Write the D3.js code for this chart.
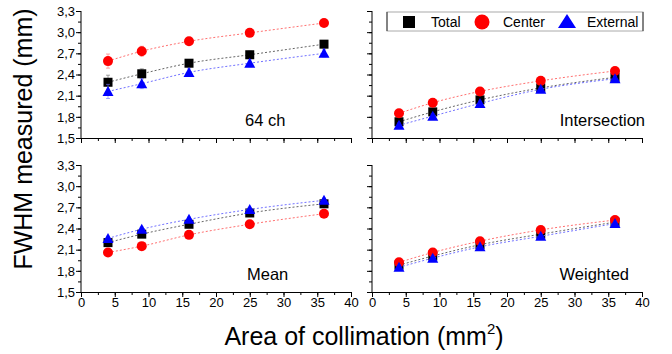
<!DOCTYPE html>
<html>
<head>
<meta charset="utf-8">
<script src="https://cdn.jsdelivr.net/npm/d3@7"></script>
<style>
  html, body { margin: 0; padding: 0; background: #fff; }
  svg { display: block; font-family: "Liberation Sans", Arial, sans-serif; }
</style>
</head>
<body>
<svg id="chart" width="672" height="354"></svg>
<script>
// Collimation areas (mm^2)
const areas = [4, 9, 16, 25, 36];
const xTicks = [0, 5, 10, 15, 20, 25, 30, 35, 40];
const yTicks = [1.5, 1.8, 2.1, 2.4, 2.7, 3.0, 3.3];

// FWHM (mm) per method
const ch64Total    = [2.29, 2.41, 2.56, 2.68, 2.83];
const ch64Center   = [2.59, 2.73, 2.87, 2.99, 3.13];
const ch64External = [2.16, 2.27, 2.43, 2.56, 2.70];

const interTotal    = [1.73, 1.87, 2.04, 2.21, 2.36];
const interCenter   = [1.85, 2.00, 2.16, 2.31, 2.45];
const interExternal = [1.68, 1.81, 1.99, 2.19, 2.34];

const meanTotal    = [2.20, 2.32, 2.46, 2.62, 2.75];
const meanCenter   = [2.06, 2.15, 2.31, 2.46, 2.61];
const meanExternal = [2.26, 2.39, 2.53, 2.67, 2.80];

const weightTotal    = [1.88, 2.01, 2.17, 2.32, 2.49];
const weightCenter   = [1.92, 2.06, 2.22, 2.38, 2.52];
const weightExternal = [1.85, 1.98, 2.14, 2.29, 2.47];

// Approximate error bar half-widths (mm)
const ch64Err = [0.1, 0.07, 0.05, 0.05, 0.05];
const smallErr = [0.03, 0.03, 0.03, 0.03, 0.03];

const seriesNames = ["Total", "Center", "External"];
const colors = { Total: "#000000", Center: "#ff0000", External: "#0000ff" };
const lineColors = { Total: "#666666", Center: "#ff7070", External: "#7070ff" };

const panels = [
  { label: "64 ch", col: 0, row: 0, anchor: "start", lx: 245,
    data: { Total: ch64Total, Center: ch64Center, External: ch64External }, err: ch64Err },
  { label: "Intersection", col: 1, row: 0, anchor: "end", lx: 645,
    data: { Total: interTotal, Center: interCenter, External: interExternal }, err: smallErr },
  { label: "Mean", col: 0, row: 1, anchor: "start", lx: 247,
    data: { Total: meanTotal, Center: meanCenter, External: meanExternal }, err: smallErr },
  { label: "Weighted", col: 1, row: 1, anchor: "end", lx: 629,
    data: { Total: weightTotal, Center: weightCenter, External: weightExternal }, err: smallErr }
];

const svg = d3.select("#chart");
const colX = [81, 372];
const rowY = [11, 165];
const pw = 270, ph = 127;
const fmt = d => d3.format(".1f")(d).replace(".", ",");

function drawMarker(g, name, cx, cy) {
  if (name === "Total") {
    g.append("rect").attr("x", cx - 4.5).attr("y", cy - 4.5)
      .attr("width", 9).attr("height", 9).attr("fill", colors[name]);
  } else if (name === "Center") {
    g.append("circle").attr("cx", cx).attr("cy", cy).attr("r", 5).attr("fill", colors[name]);
  } else {
    g.append("path").attr("d", `M${cx},${cy - 5.5}L${cx + 5.5},${cy + 4.5}L${cx - 5.5},${cy + 4.5}Z`)
      .attr("fill", colors[name]);
  }
}

panels.forEach(p => {
  const x0 = colX[p.col], y0 = rowY[p.row];
  const x = d3.scaleLinear().domain([0, 40]).range([x0, x0 + pw]);
  const y = d3.scaleLinear().domain([1.5, 3.3]).range([y0 + ph, y0]);
  const g = svg.append("g");

  // x axis: minor ticks every 2.5, labels only on the bottom row
  const xAxisMinor = d3.axisBottom(x).tickValues(d3.range(0, 40.1, 2.5)).tickSize(3).tickFormat("");
  g.append("g").attr("transform", `translate(0,${y0 + ph})`).call(xAxisMinor)
    .call(a => a.select(".domain").attr("stroke", "#000"))
    .call(a => a.selectAll("line").attr("stroke", "#000"));
  const xAxisMajor = d3.axisBottom(x).tickValues(xTicks).tickSize(5).tickPadding(1)
    .tickFormat(p.row === 1 ? d3.format("d") : "");
  g.append("g").attr("transform", `translate(0,${y0 + ph})`).call(xAxisMajor)
    .call(a => a.select(".domain").remove())
    .call(a => a.selectAll("line").attr("stroke", "#000"))
    .call(a => a.selectAll("text").attr("font-size", 13).attr("fill", "#000")
      .attr("font-family", "Liberation Sans, Arial, sans-serif"));

  // y axis: minor ticks at 0.15, labels on the left column only
  const yAxisMinor = d3.axisLeft(y).tickValues(d3.range(1.5, 3.31, 0.15)).tickSize(3).tickFormat("");
  g.append("g").attr("transform", `translate(${x0},0)`).call(yAxisMinor)
    .call(a => a.select(".domain").attr("stroke", "#000").attr("d", `M-0,${y0 + ph}V${y0}`))
    .call(a => a.selectAll("line").attr("stroke", "#000"));
  const yAxisMajor = d3.axisLeft(y).tickValues(yTicks).tickSize(5).tickPadding(1)
    .tickFormat(p.col === 0 ? fmt : "");
  g.append("g").attr("transform", `translate(${x0},0)`).call(yAxisMajor)
    .call(a => a.select(".domain").remove())
    .call(a => a.selectAll("line").attr("stroke", "#000"))
    .call(a => a.selectAll("text").attr("font-size", 13).attr("fill", "#000")
      .attr("font-family", "Liberation Sans, Arial, sans-serif"));

  // series: dashed connectors, error bars, markers
  const line = d3.line().x(d => x(d[0])).y(d => y(d[1])).curve(d3.curveMonotoneX);
  seriesNames.forEach(name => {
    const vals = p.data[name];
    const pts = areas.map((a, i) => [a, vals[i]]);
    g.append("path").attr("d", line(pts)).attr("fill", "none")
      .attr("stroke", lineColors[name]).attr("stroke-width", 1)
      .attr("stroke-dasharray", "2,2");
    pts.forEach((pt, i) => {
      const e = p.err[i];
      g.append("line").attr("x1", x(pt[0])).attr("x2", x(pt[0]))
        .attr("y1", y(pt[1] - e)).attr("y2", y(pt[1] + e))
        .attr("stroke", lineColors[name]).attr("stroke-width", 1).attr("opacity", 0.6);
      [pt[1] - e, pt[1] + e].forEach(v => {
        g.append("line").attr("x1", x(pt[0]) - 2).attr("x2", x(pt[0]) + 2)
          .attr("y1", y(v)).attr("y2", y(v))
          .attr("stroke", lineColors[name]).attr("stroke-width", 1).attr("opacity", 0.6);
      });
    });
    pts.forEach(pt => drawMarker(g, name, x(pt[0]), y(pt[1])));
  });

  g.append("text").attr("x", p.lx).attr("y", y0 + 115).attr("text-anchor", p.anchor)
    .attr("font-size", 16.5).attr("fill", "#000").text(p.label);
});

// legend
const leg = svg.append("g");
leg.append("rect").attr("x", 387).attr("y", 12).attr("width", 256).attr("height", 19)
  .attr("fill", "#fff").attr("stroke", "#aaa").attr("stroke-width", 1);
leg.append("line").attr("x1", 387).attr("x2", 387).attr("y1", 12).attr("y2", 31).attr("stroke", "#333");
leg.append("line").attr("x1", 643).attr("x2", 643).attr("y1", 12).attr("y2", 31).attr("stroke", "#333");
const legItems = [
  { name: "Total", mx: 409, tx: 431 },
  { name: "Center", mx: 482, tx: 503 },
  { name: "External", mx: 567, tx: 587 }
];
legItems.forEach(it => {
  const c = 22;
  if (it.name === "Total") {
    leg.append("rect").attr("x", it.mx - 6).attr("y", c - 6).attr("width", 12).attr("height", 12).attr("fill", colors.Total);
  } else if (it.name === "Center") {
    leg.append("circle").attr("cx", it.mx).attr("cy", c).attr("r", 7.5).attr("fill", colors.Center);
  } else {
    leg.append("path").attr("d", `M${it.mx},${c - 8}L${it.mx + 9},${c + 6}L${it.mx - 9},${c + 6}Z`).attr("fill", colors.External);
  }
  leg.append("text").attr("x", it.tx).attr("y", c + 5).attr("font-size", 14).attr("fill", "#000").text(it.name);
});

// axis titles
svg.append("text").attr("transform", "translate(32,139) rotate(-90)")
  .attr("text-anchor", "middle").attr("font-size", 25).attr("fill", "#000")
  .text("FWHM measured (mm)");
const xt = svg.append("text").attr("x", 364).attr("y", 345).attr("text-anchor", "middle")
  .attr("font-size", 25).attr("fill", "#000");
xt.append("tspan").text("Area of collimation (mm");
xt.append("tspan").attr("font-size", 15).attr("dy", -11).text("2");
xt.append("tspan").attr("dy", 11).text(")");
</script>
</body>
</html>
